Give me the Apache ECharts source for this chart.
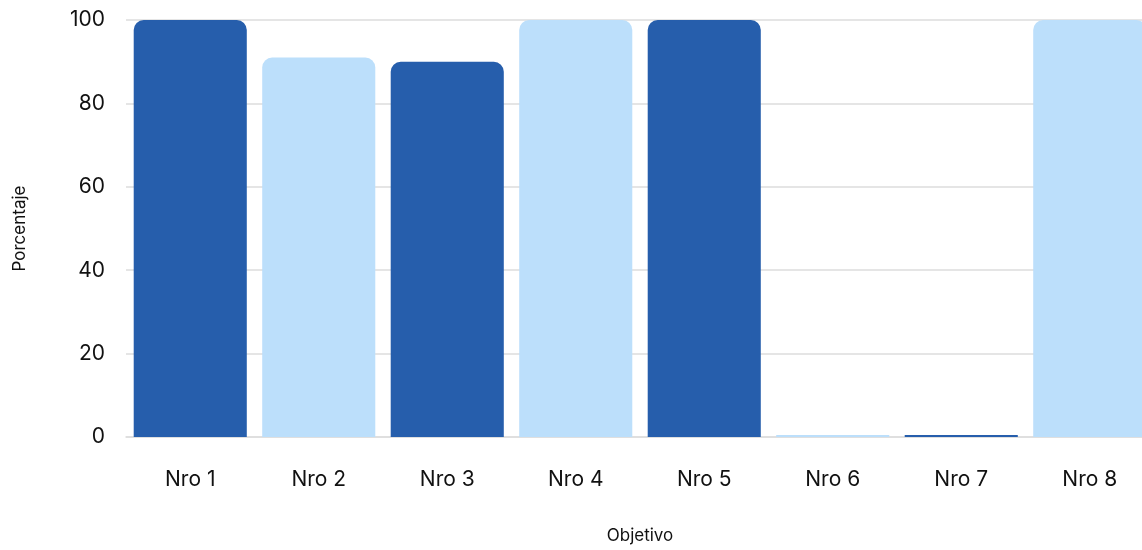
<!DOCTYPE html>
<html>
<head>
<meta charset="utf-8">
<script src="https://cdn.jsdelivr.net/npm/echarts@6/dist/echarts.min.js"></script>
<style>
  html, body { margin: 0; padding: 0; background: #ffffff; }
  #chart { width: 1142px; height: 550px; }
</style>
</head>
<body>
<div id="chart"></div>
<script>
// Percentage achieved per objective
const categories = ['Nro 1', 'Nro 2', 'Nro 3', 'Nro 4', 'Nro 5', 'Nro 6', 'Nro 7', 'Nro 8'];
const percentages = [100, 91, 90, 100, 100, 0, 0, 100];
const barColors = ['#265eac', '#bcdffb', '#265eac', '#bcdffb', '#265eac', '#bcdffb', '#265eac', '#bcdffb'];
const yTicks = [0, 20, 40, 60, 80, 100];

const font = 'Inter, "Noto Sans", sans-serif';
const chart = echarts.init(document.getElementById('chart'), null, { renderer: 'canvas' });

chart.setOption({
  animation: false,
  grid: { left: 126, right: -12, top: 20, bottom: 113, containLabel: false, outerBoundsMode: 'none' },
  xAxis: {
    type: 'category',
    data: categories,
    name: 'Objetivo',
    nameLocation: 'middle',
    nameGap: 90,
    nameTextStyle: { color: '#111111', fontSize: 17, fontFamily: font },
    axisLine: { show: true, lineStyle: { color: '#dddddd', width: 1.5 } },
    axisTick: { show: false },
    axisLabel: { color: '#111111', fontSize: 21, fontFamily: font, margin: 32 }
  },
  yAxis: {
    type: 'value',
    min: yTicks[0],
    max: yTicks[yTicks.length - 1],
    interval: yTicks[1] - yTicks[0],
    name: 'Porcentaje',
    nameLocation: 'middle',
    nameGap: 98,
    nameRotate: 90,
    nameTextStyle: { color: '#111111', fontSize: 17, fontFamily: font },
    axisLine: { show: false },
    axisTick: { show: false },
    axisLabel: { color: '#111111', fontSize: 21, fontFamily: font, margin: 21 },
    splitLine: { lineStyle: { color: '#dddddd', width: 1.5 } }
  },
  series: [{
    type: 'bar',
    barCategoryGap: '12%',
    barMinHeight: 2,
    data: percentages.map((v, i) => ({
      value: v,
      itemStyle: { color: barColors[i], borderRadius: v > 0 ? [10, 10, 0, 0] : 0 }
    }))
  }]
});
</script>
</body>
</html>
